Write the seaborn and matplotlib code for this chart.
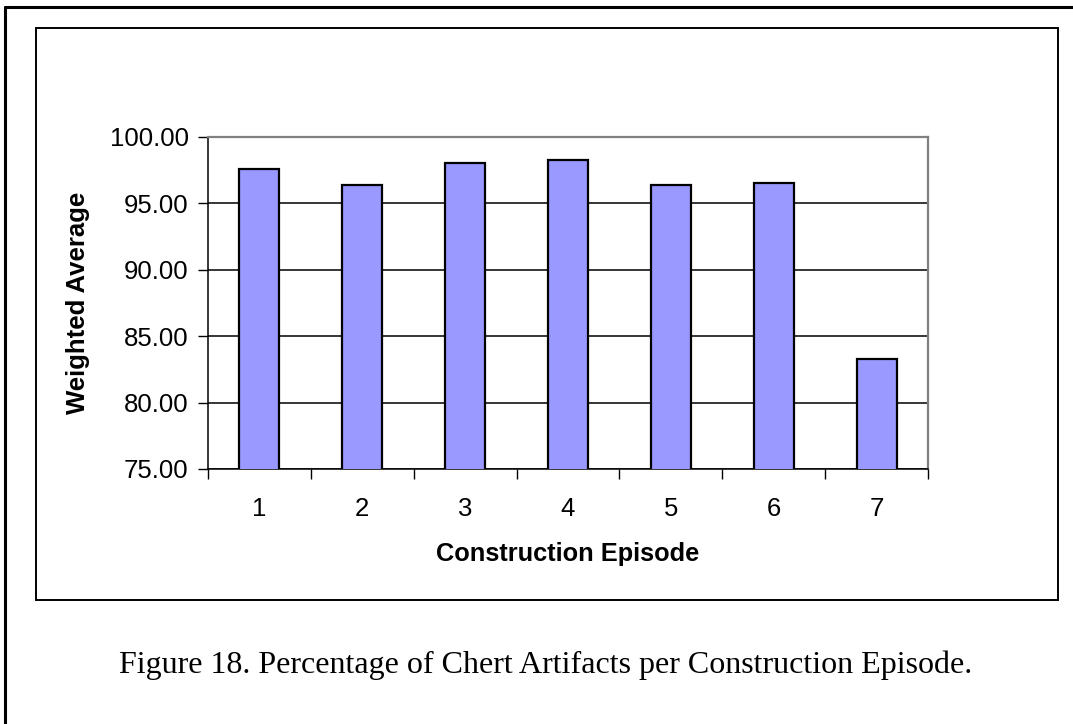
import matplotlib
matplotlib.use("Agg")
import matplotlib.pyplot as plt
import numpy as np
import pandas as pd
import seaborn as sns
from matplotlib.patches import Rectangle
from matplotlib.lines import Line2D

# chart values
episodes = ["1", "2", "3", "4", "5", "6", "7"]
weighted_avg = [97.57, 96.39, 98.02, 98.29, 96.36, 96.51, 83.26]
y_ticks = [75, 80, 85, 90, 95, 100]

caption = "Figure 18. Percentage of Chert Artifacts per Construction Episode."

df = pd.DataFrame({"episode": episodes, "value": weighted_avg})

sns.set_theme(style="white")
plt.rcParams["font.family"] = ["Liberation Sans", "DejaVu Sans"]
plt.rcParams["text.color"] = "black"
plt.rcParams["axes.labelcolor"] = "black"
plt.rcParams["xtick.color"] = "black"
plt.rcParams["ytick.color"] = "black"

W, H = 1073, 724
fig = plt.figure(figsize=(W / 100, H / 100), dpi=100)
fig.patch.set_facecolor("white")

# frames: outer page border (top + left) and inner chart box
fig.add_artist(Line2D([5 / W, 5 / W], [0, 1 - 7 / H], color="black", lw=2.2,
                      transform=fig.transFigure))
fig.add_artist(Line2D([5 / W, 1], [1 - 7 / H, 1 - 7 / H], color="black", lw=2.2,
                      transform=fig.transFigure))
fig.add_artist(Rectangle((36 / W, 1 - 600 / H), (1058 - 36) / W, (600 - 28) / H,
                         fill=False, edgecolor="black", lw=1.4,
                         transform=fig.transFigure))

ax = fig.add_axes([208 / W, 1 - 469 / H, 720 / W, 332 / H])
sns.barplot(data=df, x="episode", y="value", color="#9999FF", saturation=1,
            edgecolor="black", linewidth=1.6, width=0.39, ax=ax, zorder=3)

ax.set_ylim(75, 100)
ax.set_xlim(-0.5, len(episodes) - 0.5)
ax.set_yticks(y_ticks)
ax.set_yticklabels([f"{v:.2f}" for v in y_ticks], fontsize=18.5)
ax.tick_params(axis="x", which="major", length=0, labelsize=18.5, pad=20)
ax.tick_params(axis="y", which="major", direction="out", length=7, width=1,
               color="black", pad=7, left=True)
ax.set_xticks(np.arange(-0.5, len(episodes)), minor=True)
ax.tick_params(axis="x", which="minor", direction="out", length=7, width=1,
               color="black", bottom=True)

ax.yaxis.grid(True, color="black", lw=1.1, zorder=0)
ax.set_axisbelow(True)
for side in ["top", "right"]:
    ax.spines[side].set_color("#808080")
    ax.spines[side].set_linewidth(1.6)
for side in ["left", "bottom"]:
    ax.spines[side].set_color("black")
    ax.spines[side].set_linewidth(1.1)

ax.set_xlabel("Construction Episode", fontsize=18.3, fontweight="bold", labelpad=15)
ax.set_ylabel("Weighted Average", fontsize=18.5, fontweight="bold", labelpad=14)

fig.text(546 / W, 1 - 665 / H, caption, ha="center", va="center", fontsize=23,
         family=["Liberation Serif", "DejaVu Serif"])

fig.savefig("out.png", dpi=100)
